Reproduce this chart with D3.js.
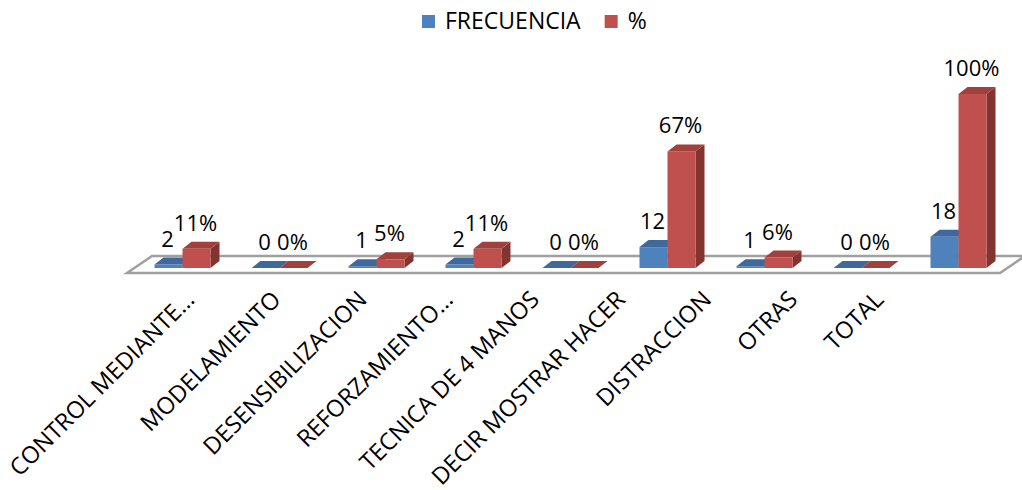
<!DOCTYPE html>
<html>
<head>
<meta charset="utf-8">
<script src="https://cdn.jsdelivr.net/npm/d3@7"></script>
<style>
  body { margin: 0; background: #fff; }
  svg text { font-family: "Open Sans", sans-serif; fill: #000; }
</style>
</head>
<body>
<div id="chart"></div>
<script>
// data
const categories = ["CONTROL MEDIANTE\u2026", "MODELAMIENTO", "DESENSIBILIZACION", "REFORZAMIENTO\u2026",
  "TECNICA DE 4 MANOS", "DECIR MOSTRAR HACER", "DISTRACCION", "OTRAS", "TOTAL"];
const seriesNames = ["FRECUENCIA", "%"];
const frecuencia = [2, 0, 1, 2, 0, 12, 1, 0, 18];
const porcentaje = [11, 0, 5, 11, 0, 67, 6, 0, 100];

const colors = {
  "FRECUENCIA": {front: "#4F81BD", top: "#3F689C", side: "#385D8A"},
  "%": {front: "#C0504D", top: "#A1403D", side: "#84342F"}
};

const W = 1022, H = 490;
const floorY = 273;             // front edge of the floor
const depth = {dx: 25, dy: -17};  // floor depth
const barOff = {dx: 7, dy: -5};   // where bars stand inside the floor
const barDepth = {dx: 9, dy: -7};

const svg = d3.select("#chart").append("svg")
  .attr("width", W).attr("height", H);

const x = d3.scaleBand().domain(categories).range([127, 1000]);
const xs = d3.scaleBand().domain(seriesNames).range([-28, 28]);
const y = d3.scaleLinear().domain([0, 100]).range([0, 174]);
const xl = d3.scalePoint().domain(categories).range([196, 885]);

// floor
const fx0 = x.range()[0], fx1 = x.range()[1];
svg.append("path")
  .attr("d", "M" + fx0 + "," + floorY + "L" + fx1 + "," + floorY +
    "L" + (fx1 + depth.dx) + "," + (floorY + depth.dy) + "L" + (fx0 + depth.dx) + "," + (floorY + depth.dy) + "Z")
  .attr("fill", "#fff")
  .attr("stroke", "#A0A0A0")
  .attr("stroke-width", 2.5)
  .attr("stroke-linejoin", "miter");

const bars = [];
categories.forEach((c, i) => {
  bars.push({cat: c, s: "FRECUENCIA", v: frecuencia[i], label: String(frecuencia[i])});
  bars.push({cat: c, s: "%", v: porcentaje[i], label: porcentaje[i] + "%"});
});

const baseY = floorY + barOff.dy;
const bw = xs.bandwidth();

const g = svg.append("g");
bars.forEach(d => {
  const x0 = x(d.cat) + x.bandwidth() / 2 + barOff.dx + xs(d.s);
  const h = y(d.v);
  const top = baseY - h;
  const col = colors[d.s];
  const b = g.append("g");
  // side
  b.append("path")
    .attr("d", "M" + (x0 + bw) + "," + baseY + "L" + (x0 + bw + barDepth.dx) + "," + (baseY + barDepth.dy) +
      "L" + (x0 + bw + barDepth.dx) + "," + (top + barDepth.dy) + "L" + (x0 + bw) + "," + top + "Z")
    .attr("fill", col.side);
  // front
  b.append("rect")
    .attr("x", x0).attr("y", top).attr("width", bw).attr("height", h)
    .attr("fill", col.front);
  // top
  b.append("path")
    .attr("d", "M" + x0 + "," + top + "L" + (x0 + bw) + "," + top +
      "L" + (x0 + bw + barDepth.dx) + "," + (top + barDepth.dy) + "L" + (x0 + barDepth.dx) + "," + (top + barDepth.dy) + "Z")
    .attr("fill", col.top);
  d.cx = x0 + bw / 2 - 1;
  d.top = top;
});

// data labels
svg.append("g").selectAll("text")
  .data(bars)
  .join("text")
  .attr("x", d => d.cx)
  .attr("y", d => d.top - 18)
  .attr("text-anchor", "middle")
  .style("font-size", "22px")
  .text(d => d.label);

// category labels
svg.append("g").selectAll("text")
  .data(categories)
  .join("text")
  .attr("transform", d => "translate(" + xl(d) + ",301) rotate(-45)")
  .attr("text-anchor", "end")
  .style("font-size", "23.5px")
  .text(d => d);

// legend
const leg = svg.append("g").attr("transform", "translate(422,15)");
let lx = 0;
seriesNames.forEach(s => {
  leg.append("rect").attr("x", lx).attr("y", 0).attr("width", 13).attr("height", 13)
    .attr("fill", colors[s].front);
  const t = leg.append("text").attr("x", lx + 23).attr("y", 14)
    .style("font-size", "23px").text(s);
  lx += 23 + t.node().getComputedTextLength() + 24;
});
</script>
</body>
</html>
